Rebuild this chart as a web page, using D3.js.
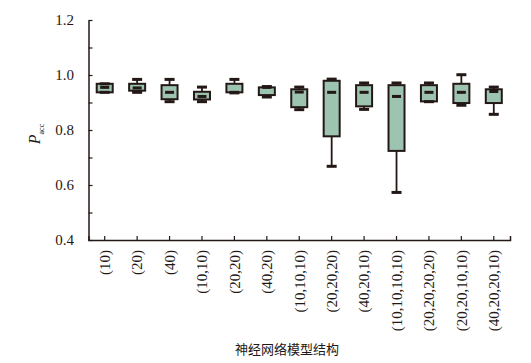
<!DOCTYPE html>
<html><head><meta charset="utf-8">
<script src="https://cdn.jsdelivr.net/npm/d3@7"></script>
<style>body{margin:0;background:#fff}</style>
</head><body>
<svg id="c" width="531" height="363"></svg>
<script>
const categories = ["(10)","(20)","(40)","(10,10)","(20,20)","(40,20)","(10,10,10)","(20,20,20)","(40,20,10)","(10,10,10,10)","(20,20,20,20)","(20,20,10,10)","(40,20,20,10)"];
const maxVals = [0.968,0.984,0.984,0.956,0.984,0.958,0.956,0.985,0.971,0.971,0.971,1.001,0.956];
const q3Vals  = [0.968,0.968,0.963,0.939,0.968,0.955,0.948,0.979,0.963,0.963,0.963,0.968,0.948];
const medVals = [0.955,0.953,0.937,0.922,0.937,0.955,0.938,0.937,0.937,0.922,0.937,0.937,0.940];
const q1Vals  = [0.937,0.943,0.912,0.911,0.937,0.927,0.883,0.777,0.886,0.724,0.904,0.898,0.898];
const minVals = [0.937,0.937,0.903,0.903,0.935,0.920,0.874,0.668,0.875,0.573,0.903,0.890,0.857];
const yTicks = [0.4,0.6,0.8,1.0,1.2];
const yMinor = [0.4,0.5,0.6,0.7,0.8,0.9,1.0,1.1,1.2];
const xTitle = "神经网络模型结构";

const dark = "#231815", fill = "#9dc3b1";
const svg = d3.select("#c");
const L = 88.5, R = 510, T = 20, B = 240;
const x = d3.scaleBand().domain(categories).range([L, R]).padding(0);
const y = d3.scaleLinear().domain([0.4, 1.2]).range([B, T]);

// axes
const gy = svg.append("g").attr("transform", `translate(${L},0)`)
  .call(d3.axisLeft(y).tickValues(yMinor).tickSizeInner(-4).tickSizeOuter(0).tickFormat(""));
gy.select(".domain").attr("stroke", dark).attr("stroke-width", 1.5);
gy.selectAll(".tick line").attr("stroke", dark).attr("stroke-width", 1.2);
svg.append("g").selectAll("text").data(yTicks).join("text")
  .attr("x", 74).attr("y", d => y(d)).attr("dy", "0.35em")
  .attr("text-anchor", "end").attr("font-family", "Liberation Serif").attr("font-size", 15)
  .attr("fill", dark).text(d => d.toFixed(1));

const gx = svg.append("g").attr("transform", `translate(0,${B})`)
  .call(d3.axisBottom(x).tickSizeInner(-4).tickSizeOuter(-4).tickFormat(""));
gx.select(".domain").attr("stroke", dark).attr("stroke-width", 1.5);
gx.selectAll(".tick line").attr("stroke", dark).attr("stroke-width", 1.2);
svg.append("g").selectAll("text").data(categories).join("text")
  .attr("transform", d => `translate(${x(d) + x.bandwidth()/2},250) rotate(-90)`)
  .attr("dy", "0.35em").attr("text-anchor", "end")
  .attr("font-family", "Liberation Serif").attr("font-size", 15).attr("fill", dark)
  .text(d => d);

// y label
const yl = svg.append("text").attr("transform", "translate(40,134) rotate(-90)")
  .attr("font-family", "Liberation Serif").attr("fill", dark).attr("text-anchor", "middle");
yl.append("tspan").attr("font-style", "italic").attr("font-size", 16).text("P");
yl.append("tspan").attr("font-size", 8).attr("dy", 4).text("acc");

svg.append("text").attr("x", 287).attr("y", 354).attr("text-anchor", "middle")
  .attr("font-family", "Noto Sans CJK SC").attr("font-size", 13).attr("fill", dark).text(xTitle);

// boxes
const data = categories.map((c, i) => ({c, max: maxVals[i], q3: q3Vals[i], med: medVals[i], q1: q1Vals[i], min: minVals[i]}));
const g = svg.append("g");
const cx = d => x(d.c) + x.bandwidth()/2;
g.selectAll("line.w").data(data).join("line")
  .attr("x1", cx).attr("x2", cx).attr("y1", d => y(d.max)).attr("y2", d => y(d.min))
  .attr("stroke", dark).attr("stroke-width", 1.8);
g.selectAll("rect.b").data(data).join("rect")
  .attr("x", d => cx(d) - 8).attr("width", 16)
  .attr("y", d => y(d.q3)).attr("height", d => y(d.q1) - y(d.q3))
  .attr("fill", fill).attr("stroke", dark).attr("stroke-width", 2);
g.selectAll("rect.m").data(data).join("rect")
  .attr("x", d => cx(d) - 4.5).attr("width", 9)
  .attr("y", d => y(d.med) - 1.5).attr("height", 3).attr("fill", dark);
[["max"],["min"]].forEach(([k]) => {
  g.append("g").selectAll("rect").data(data).join("rect")
    .attr("x", d => cx(d) - 5).attr("width", 10)
    .attr("y", d => y(d[k]) - 1.5).attr("height", 3).attr("fill", dark);
});
</script>
</body></html>
